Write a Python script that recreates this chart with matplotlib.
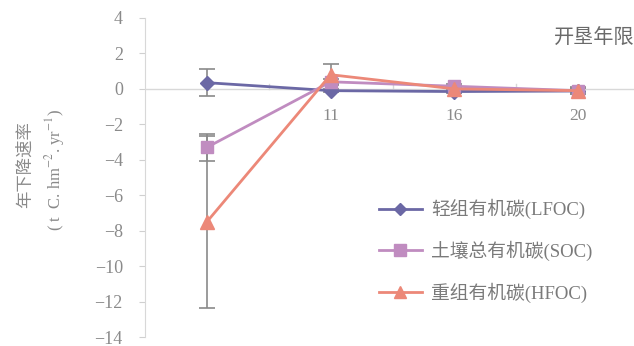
import matplotlib
matplotlib.use("Agg")
import matplotlib.pyplot as plt
from matplotlib.lines import Line2D

plt.rcParams['font.family'] = ['Liberation Serif', 'Noto Sans CJK SC', 'DejaVu Sans']
plt.rcParams['mathtext.fontset'] = 'stix'

# Reclamation years (first label not printed on the axis)
categories = ["", "11", "16", "20"]
lfoc = [0.35, -0.10, -0.15, -0.12]
soc = [-3.30, 0.40, 0.15, -0.10]
hfoc = [-7.50, 0.80, 0.00, -0.10]
lfoc_err = [0.75, 0.10, 0.10, 0.15]
soc_err = [0.75, 0.15, 0.10, 0.15]
hfoc_err = [4.85, 0.60, 0.15, 0.20]
yticks = [4, 2, 0, -2, -4, -6, -8, -10, -12, -14]

names = ["轻组有机碳(LFOC)", "土壤总有机碳(SOC)", "重组有机碳(HFOC)"]
colors = ["#6b68a5", "#c08cc0", "#ec8878"]
markers = ["D", "s", "^"]
msizes = [7, 9, 10]

fig = plt.figure(figsize=(6.34, 3.46), dpi=100)
ax = fig.add_axes([145 / 634, 9 / 346, 1 - 145 / 634, 319 / 346])
ax.set_xlim(-0.5, 3.45)
ax.set_ylim(-14, 4)

x = list(range(len(categories)))
ecol = "#8a8a8a"
for vals, errs in [(hfoc, hfoc_err), (soc, soc_err), (lfoc, lfoc_err)]:
    ax.errorbar(x, vals, yerr=errs, fmt="none", ecolor=ecol, elinewidth=1.2,
                capsize=6, capthick=1.2, zorder=2)

series = [lfoc, soc, hfoc]
for vals, c, m, ms in zip(series, colors, markers, msizes):
    ax.plot(x, vals, color=c, marker=m, markersize=ms, linewidth=2,
            markeredgecolor=c, zorder=3)

# Zero line acting as category axis
ax.axhline(0, color="#d8d8d8", linewidth=1, zorder=1)
for b in [0.5, 1.5, 2.5]:
    ax.plot([b, b], [0, 0.25], color="#d8d8d8", linewidth=1, zorder=1)
for xi, lab in zip(x, categories):
    if lab:
        ax.text(xi, -1.55, lab, ha="center", va="center", fontsize=12.5,
                color="#8a8a8a")

for s in ["top", "right", "bottom"]:
    ax.spines[s].set_visible(False)
ax.spines["left"].set_color("#d8d8d8")
ax.set_xticks([])
ax.set_yticks(yticks)
ax.set_yticklabels([str(v).replace("-", "−") for v in yticks])
ax.tick_params(axis="y", colors="#d0d0d0", labelcolor="#8a8a8a",
               labelsize=13, length=4, pad=12)

fig.text(25 / 634, 1 - 165 / 346, "年下降速率", rotation=90, ha="center",
         va="center", fontsize=12.5, color="#8a8a8a", family="Noto Sans CJK SC")
fig.text(55 / 634, 1 - 170 / 346, r"( t  C. hm$^{-2}$. yr$^{-1}$)", rotation=90,
         ha="center", va="center", fontsize=12, color="#8a8a8a")

fig.text(554 / 634, 1 - 38 / 346, "开垦年限", ha="left", va="center",
         fontsize=14.5, color="#6a6a6a", family="Noto Sans CJK SC")

handles = [Line2D([0], [0], color=c, marker=m, markersize=ms - 1, linewidth=2)
           for c, m, ms in zip(colors, markers, msizes)]
leg = fig.legend(handles, names, loc="upper left",
                 bbox_to_anchor=(362 / 634, 1 - 182 / 346), frameon=False,
                 fontsize=13.5, labelspacing=1.15, handlelength=2.3,
                 handletextpad=0.5, labelcolor="#7a7a7a")

fig.savefig("out.png", dpi=100)
